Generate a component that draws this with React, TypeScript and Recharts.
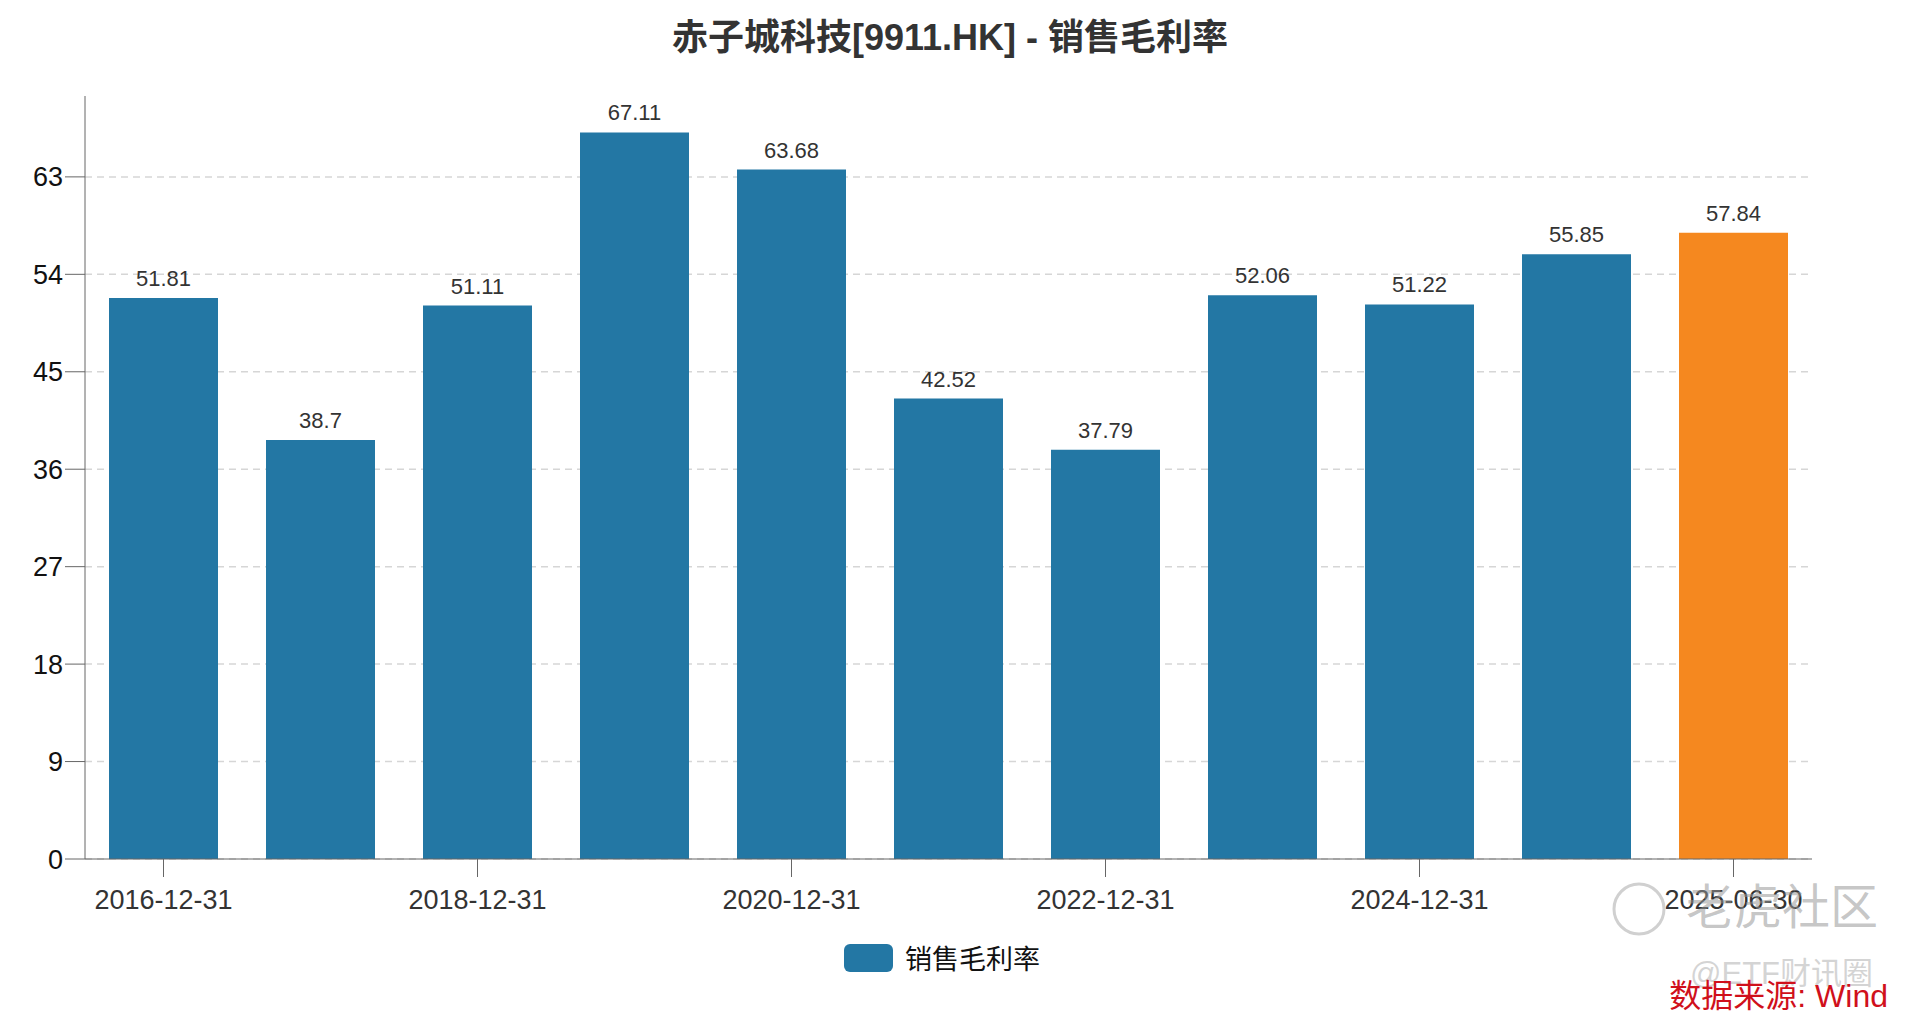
import React from 'react'
import { BarChart, Bar, XAxis, YAxis, CartesianGrid, LabelList, Cell } from 'recharts'

const dates = [
  '2016-12-31', '2017-12-31', '2018-12-31', '2019-12-31', '2020-12-31', '2021-12-31',
  '2022-12-31', '2023-12-31', '2024-12-31', '2025-03-31', '2025-06-30',
]
const grossMargin = [51.81, 38.7, 51.11, 67.11, 63.68, 42.52, 37.79, 52.06, 51.22, 55.85, 57.84]
const yTicks = [0, 9, 18, 27, 36, 45, 54, 63]

const data = dates.map((d, i) => ({ date: d, value: grossMargin[i] }))

const BLUE = '#2377a4'
const ORANGE = '#f5881f'
const FONT = '"Liberation Sans", Arial, "Noto Sans CJK SC", sans-serif'

export default function App() {
  return (
    <div style={{ position: 'absolute', left: 0, top: 0, width: 1918, height: 1020, background: '#fff', fontFamily: FONT }}>
      <div style={{ position: 'absolute', left: 0, width: 1900, top: 16, textAlign: 'center', fontSize: 36, fontWeight: 'bold', color: '#333', lineHeight: '44px' }}>
        赤子城科技[9911.HK] - 销售毛利率
      </div>
      <BarChart
        width={1918}
        height={1020}
        data={data}
        margin={{ top: 96, right: 106, left: 0, bottom: 101 }}
      >
        <CartesianGrid vertical={false} horizontalValues={yTicks} stroke="#d6d6d6" strokeWidth={1.5} strokeDasharray="7 5" />
        <XAxis
          dataKey="date"
          interval={1}
          height={60}
          tickSize={18}
          tickMargin={13}
          stroke="#666"
          tick={{ fontSize: 27, fill: '#333', fontFamily: FONT }}
        />
        <YAxis
          width={85}
          domain={[0, 70.47]}
          ticks={yTicks}
          tickSize={20}
          tickMargin={2}
          stroke="#666"
          tick={{ fontSize: 27, fill: '#111', fontFamily: FONT }}
        />
        <Bar dataKey="value" barSize={109} isAnimationActive={false}>
          {data.map((d, i) => (
            <Cell key={i} fill={i === data.length - 1 ? ORANGE : BLUE} />
          ))}
          <LabelList dataKey="value" position="top" offset={12} style={{ fontSize: 22, fill: '#333', fontFamily: FONT }} />
        </Bar>
      </BarChart>
      {/* legend */}
      <div style={{ position: 'absolute', left: 844, top: 938, display: 'flex', alignItems: 'center' }}>
        <span style={{ display: 'inline-block', width: 49, height: 28, borderRadius: 6, background: BLUE }} />
        <span style={{ marginLeft: 12, fontSize: 27, color: '#111' }}>销售毛利率</span>
      </div>
      {/* watermark */}
      <svg style={{ position: 'absolute', left: 1610, top: 880 }} width={60} height={60}>
        <circle cx={29} cy={29} r={25} fill="none" stroke="#d0d0d0" strokeWidth={3} />
      </svg>
      <div style={{ position: 'absolute', left: 1686, top: 880, fontSize: 48, color: 'rgba(150,150,150,0.55)', lineHeight: '56px' }}>
        老虎社区
      </div>
      <div style={{ position: 'absolute', left: 1690, top: 956, fontSize: 31, color: 'rgba(170,170,170,0.5)', lineHeight: '36px' }}>
        @ETF财讯圈
      </div>
      <div style={{ position: 'absolute', right: 30, top: 977, fontSize: 32, color: '#d0101b', lineHeight: '38px' }}>
        数据来源: Wind
      </div>
    </div>
  )
}
